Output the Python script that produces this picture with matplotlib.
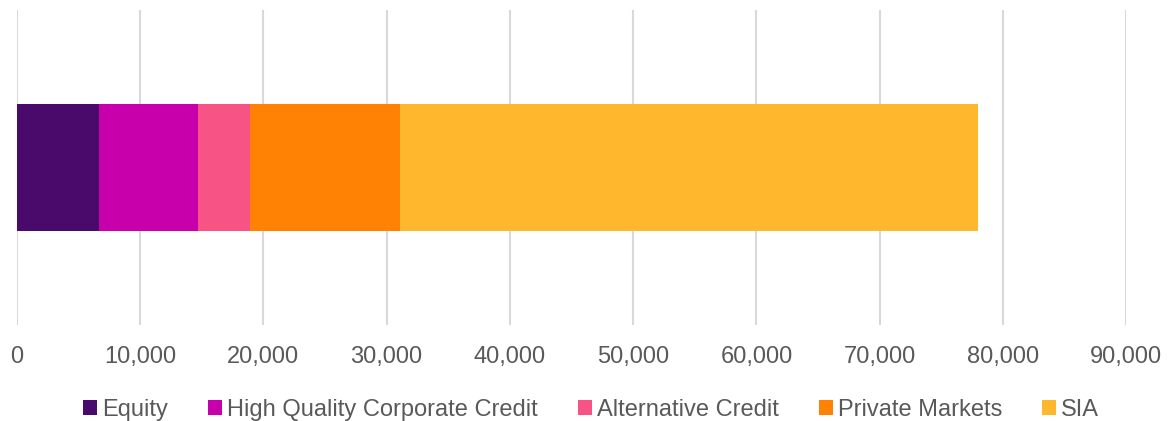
import matplotlib.pyplot as plt

plt.rcParams['font.family'] = ['Liberation Sans', 'DejaVu Sans']

# segment values
categories = ['Equity', 'High Quality Corporate Credit', 'Alternative Credit', 'Private Markets', 'SIA']
values = [6670, 8020, 4210, 12160, 46950]
colors = ['#4A0A6C', '#C800AB', '#F75384', '#FF8205', '#FFB82D']
xticks = list(range(0, 90001, 10000))

fig = plt.figure(figsize=(11.68, 4.21), dpi=100)
ax = fig.add_axes([0.0143, 0.228, 0.950, 0.748])

left = 0
for name, v, c in zip(categories, values, colors):
    ax.barh(0, v, left=left, height=0.403, color=c, label=name, zorder=3)
    left += v

ax.set_xlim(0, 90000)
ax.set_ylim(-0.5, 0.5)
ax.set_xticks(xticks)
ax.set_xticklabels([f'{t:,}' for t in xticks])
ax.set_yticks([])
ax.grid(axis='x', color='#D9D9D9', linewidth=1.5, zorder=0)
for s in ax.spines.values():
    s.set_visible(False)
ax.tick_params(axis='x', length=0, pad=15, labelsize=17, labelcolor='#595959')

fig.legend(loc='center', bbox_to_anchor=(0.506, 1 - 410 / 421), ncol=5, frameon=False,
           handlelength=0.6, handleheight=0.6, handletextpad=0.2, columnspacing=1.7,
           prop={'size': 17}, labelcolor='#595959')

fig.savefig('out.png', dpi=100)
